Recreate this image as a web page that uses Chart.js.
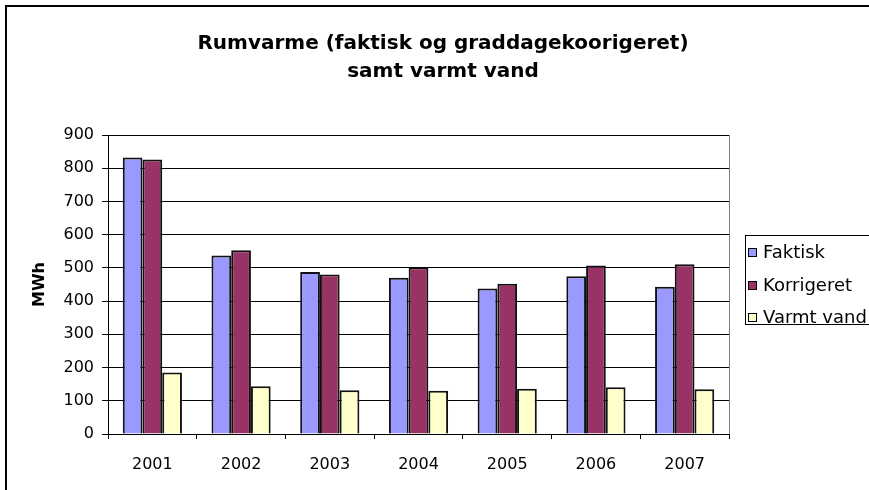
<!DOCTYPE html>
<html>
<head>
<meta charset="utf-8">
<script src="https://cdn.jsdelivr.net/npm/chart.js@4/dist/chart.umd.min.js"></script>
<style>
html,body{margin:0;padding:0;background:#fff;}
#wrap{width:869px;height:490px;position:relative;}
</style>
</head>
<body>
<div id="wrap"><canvas id="c" width="869" height="490"></canvas></div>
<script>
const categories = ['2001','2002','2003','2004','2005','2006','2007'];
const faktisk = [832, 537, 488, 470, 438, 475, 443];
const korrigeret = [826, 553, 480, 501, 452, 507, 511];
const varmtVand = [185, 144, 132, 130, 136, 141, 135];
const seriesNames = ['Faktisk', 'Korrigeret', 'Varmt vand'];
const titleLines = ['Rumvarme (faktisk og graddagekoorigeret)', 'samt varmt vand'];
const yTitle = 'MWh';

const FONT = '"DejaVu Sans", "Liberation Sans", Arial, sans-serif';

const framePlugin = {
  id: 'frame',
  beforeDraw(chart) {
    const ctx = chart.ctx;
    ctx.save();
    ctx.fillStyle = '#fff';
    ctx.fillRect(0, 0, chart.width, chart.height);
    ctx.restore();
  },
  afterDraw(chart) {
    const ctx = chart.ctx;
    const a = chart.chartArea;
    ctx.save();
    // plot area right border
    ctx.strokeStyle = '#808080';
    ctx.lineWidth = 1;
    ctx.beginPath();
    ctx.moveTo(Math.round(a.right) + 0.5, a.top);
    ctx.lineTo(Math.round(a.right) + 0.5, a.bottom);
    ctx.stroke();
    // outer frame
    ctx.strokeStyle = '#000';
    ctx.lineWidth = 2;
    ctx.strokeRect(6, 6, chart.width + 20, chart.height + 20);
    // title
    ctx.fillStyle = '#000';
    ctx.font = 'bold 20px ' + FONT;
    ctx.textAlign = 'center';
    ctx.textBaseline = 'middle';
    ctx.fillText(titleLines[0], 443, 44);
    ctx.fillText(titleLines[1], 443, 72);
    // legend
    ctx.textAlign = 'left';
    const lx = 745, ly = 235, lw = 140, lh = 89;
    ctx.lineWidth = 1;
    ctx.strokeStyle = '#000';
    ctx.strokeRect(lx + 0.5, ly + 0.5, lw, lh);
    const ys = [252, 285, 317];
    ctx.font = '18px ' + FONT;
    chart.data.datasets.forEach((ds, i) => {
      ctx.fillStyle = ds.backgroundColor;
      ctx.fillRect(748, ys[i] - 4, 9, 9);
      ctx.strokeStyle = '#000';
      ctx.strokeRect(748.5, ys[i] - 3.5, 8, 8);
      ctx.fillStyle = '#000';
      ctx.fillText(ds.label, 763, ys[i] + 1);
    });
    ctx.restore();
  }
};

new Chart(document.getElementById('c'), {
  type: 'bar',
  data: {
    labels: categories,
    datasets: [
      { label: seriesNames[0], data: faktisk, backgroundColor: '#9999FF', borderColor: '#111', borderWidth: 2, borderSkipped: 'bottom' },
      { label: seriesNames[1], data: korrigeret, backgroundColor: '#993366', borderColor: '#111', borderWidth: 2, borderSkipped: 'bottom' },
      { label: seriesNames[2], data: varmtVand, backgroundColor: '#FFFFCC', borderColor: '#111', borderWidth: 2, borderSkipped: 'bottom' }
    ]
  },
  options: {
    responsive: false,
    animation: false,
    devicePixelRatio: 1,
    layout: { padding: { left: 20, right: 140, top: 135, bottom: 0 } },
    datasets: { bar: { categoryPercentage: 0.667, barPercentage: 1.0 } },
    plugins: {
      legend: { display: false },
      tooltip: { enabled: false },
      title: { display: false }
    },
    scales: {
      x: {
        grid: { display: true, drawOnChartArea: false, offset: true, color: '#000', tickLength: 5, tickColor: '#000' },
        border: { display: true, color: '#000', width: 1 },
        ticks: { color: '#000', font: { family: FONT, size: 16 }, padding: 16, maxRotation: 0 },
        afterFit(s) { s.height = 56; }
      },
      y: {
        min: 0, max: 900,
        ticks: { stepSize: 100, color: '#000', font: { family: FONT, size: 16 }, padding: 8 },
        grid: { color: '#000', tickLength: 6, tickColor: '#000' },
        border: { display: true, color: '#000', width: 1 },
        title: { display: true, text: yTitle, color: '#000', font: { family: FONT, size: 16, weight: 'bold' }, padding: { top: 10, bottom: 0 } },
        afterFit(s) { s.width = 88; }
      }
    }
  },
  plugins: [framePlugin]
});
</script>
</body>
</html>
